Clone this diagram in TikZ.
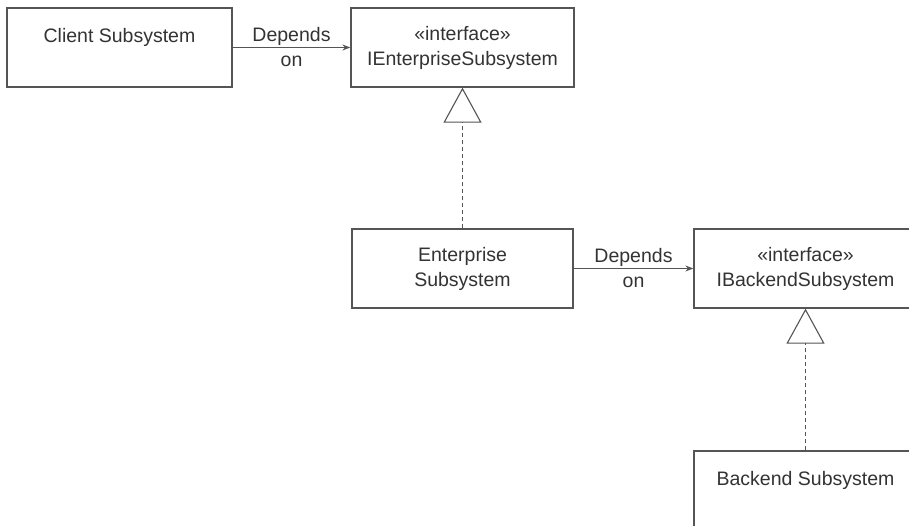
\documentclass[tikz,border=0pt]{standalone}
\usepackage{fontspec}
\setmainfont{Liberation Sans}
\usetikzlibrary{arrows.meta}
\definecolor{edge}{HTML}{555555}
\definecolor{txt}{HTML}{333333}
\tikzset{
  box/.style={draw=edge, line width=1.3pt, rectangle, minimum height=79pt, inner sep=0pt, align=center, text=txt, font=\fontsize{19.5}{25}\selectfont},
  dep/.style={draw=edge, line width=1.1pt, -{Stealth[length=8pt,width=6pt]}},
  deplabel/.style={align=center, text=txt, font=\fontsize{19.5}{25}\selectfont, inner sep=0pt},
  real/.style={draw=edge, line width=1.1pt, dash pattern=on 4pt off 3pt, -{Triangle[open, length=35pt, width=38pt, line width=1.1pt]}}
}
\begin{document}
\begin{tikzpicture}[x=1pt,y=-1pt]
\useasboundingbox (0,0) rectangle (909,526);
\fill[white] (0,0) rectangle (909,526);
\clip (0,0) rectangle (909,526);
\node[box, minimum width=225pt] (client) at (119.5,47.5) {Client Subsystem\\\mbox{}};
\node[box, minimum width=223pt] (ient) at (462.5,47.5) {«interface»\\IEnterpriseSubsystem};
\node[box, minimum width=221pt] (ent) at (462.5,268.5) {Enterprise\\Subsystem};
\node[box, minimum width=223pt] (iback) at (805.5,268.5) {«interface»\\IBackendSubsystem};
\node[box, minimum width=223pt] (back) at (805.5,490.5) {Backend Subsystem\\\mbox{}};
\draw[dep] (client) -- node[deplabel, name=l1] {Depends\\on} (ient);
\draw[dep] (ent) -- node[deplabel, name=l2] {Depends\\on} (iback);
\draw[real] (ent.north) -- (ient.south);
\draw[real] (back.north) -- (iback.south);
\end{tikzpicture}
\end{document}
